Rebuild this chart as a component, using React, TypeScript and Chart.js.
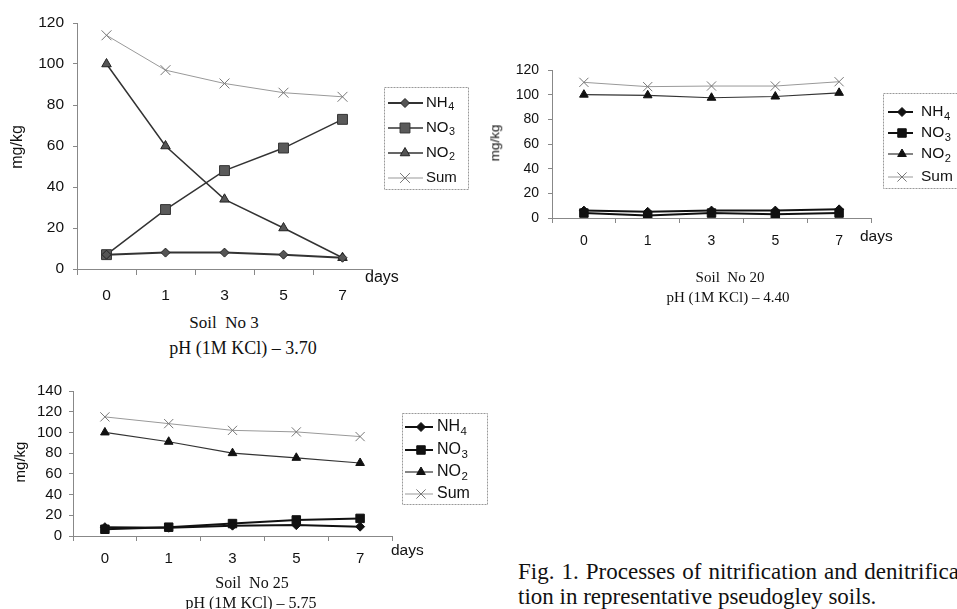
import React, { useEffect, useRef } from 'react';
import { Chart, registerables } from 'chart.js';
import { drawPoint } from 'chart.js/helpers';

Chart.register(...registerables);

// ---------- data ----------
const days = ['0', '1', '3', '5', '7'];
const seriesNames = ['NH4', 'NO3', 'NO2', 'Sum'];

const soil3NH4 = [7, 8, 8, 7, 5.5];
const soil3NO3 = [7, 29, 48, 59, 73];
const soil3NO2 = [100, 60, 34, 20, 5.5];
const soil3Sum = [114, 97, 90.5, 86, 84];

const soil20NH4 = [6, 5, 6, 6, 7];
const soil20NO3 = [4, 2, 4, 3, 4];
const soil20NO2 = [100, 99.5, 97.5, 98.5, 101.5];
const soil20Sum = [110, 106.5, 107, 107, 110.5];

const soil25NH4 = [8.5, 8, 10, 10.5, 9];
const soil25NO3 = [6.5, 8.5, 12, 15.5, 17];
const soil25NO2 = [100, 91, 80, 75.5, 70.5];
const soil25Sum = [115, 108.5, 102, 100.5, 96];

const SANS = '"Liberation Sans", Arial, sans-serif';
const SERIF = '"Liberation Serif", "Times New Roman", serif';

type Style = {
  color: string;
  width: number;
  point: string;
  radius: number;
  fill: string;
  border: string;
};

const grayStyles: Style[] = [
  { color: '#333', width: 2, point: 'rectRot', radius: 4.5, fill: '#555', border: '#222' },
  { color: '#333', width: 1.5, point: 'rect', radius: 7, fill: '#5a5a5a', border: '#333' },
  { color: '#333', width: 1.5, point: 'triangle', radius: 5.5, fill: '#555', border: '#222' },
  { color: '#999', width: 1, point: 'crossRot', radius: 7, fill: '#888', border: '#777' },
];
const blackStyles: Style[] = [
  { color: '#111', width: 2, point: 'rectRot', radius: 4.5, fill: '#111', border: '#111' },
  { color: '#111', width: 2, point: 'rect', radius: 6, fill: '#111', border: '#111' },
  { color: '#333', width: 1.2, point: 'triangle', radius: 5, fill: '#111', border: '#111' },
  { color: '#999', width: 1, point: 'crossRot', radius: 6.5, fill: '#888', border: '#777' },
];

function makeSets(values: number[][], styles: Style[]) {
  return values.map((v, i) => ({
    label: seriesNames[i],
    data: v,
    borderColor: styles[i].color,
    borderWidth: styles[i].width,
    pointStyle: styles[i].point,
    pointRadius: styles[i].radius,
    pointBackgroundColor: styles[i].fill,
    pointBorderColor: styles[i].border,
    pointBorderWidth: 1,
    tension: 0,
    fill: false,
  }));
}

type LegendCfg = {
  x: number; y: number; w: number; h: number;
  rows: number[]; lineX0: number; lineX1: number; markerX: number; textX: number; fontSize: number;
};

function makeLegend(cfg: LegendCfg) {
  return {
    id: 'boxLegend',
    afterDraw(chart: any) {
      const ctx = chart.ctx as CanvasRenderingContext2D;
      ctx.save();
      ctx.strokeStyle = '#999';
      ctx.lineWidth = 1;
      ctx.setLineDash([2, 1]);
      ctx.strokeRect(cfg.x + 0.5, cfg.y + 0.5, cfg.w, cfg.h);
      ctx.setLineDash([]);
      chart.data.datasets.forEach((ds: any, i: number) => {
        const y = cfg.rows[i];
        ctx.strokeStyle = ds.borderColor;
        ctx.lineWidth = ds.borderWidth;
        ctx.beginPath();
        ctx.moveTo(cfg.lineX0, y);
        ctx.lineTo(cfg.lineX1, y);
        ctx.stroke();
        ctx.fillStyle = ds.pointBackgroundColor;
        ctx.strokeStyle = ds.pointBorderColor;
        ctx.lineWidth = ds.pointBorderWidth;
        drawPoint(ctx, { pointStyle: ds.pointStyle, radius: ds.pointRadius, borderWidth: ds.pointBorderWidth, rotation: 0 } as any, cfg.markerX, y);
        const m = /^(.*?)(\d*)$/.exec(ds.label) as RegExpExecArray;
        ctx.fillStyle = '#111';
        ctx.textBaseline = 'middle';
        ctx.textAlign = 'left';
        ctx.font = `${cfg.fontSize}px ${SANS}`;
        ctx.fillText(m[1], cfg.textX, y);
        if (m[2]) {
          const w = ctx.measureText(m[1]).width;
          ctx.font = `${cfg.fontSize * 0.72}px ${SANS}`;
          ctx.fillText(m[2], cfg.textX + w + 0.5, y + cfg.fontSize * 0.3);
        }
      });
      ctx.restore();
    },
  };
}

type ChartProps = {
  left: number; top: number; width: number; height: number;
  area: { left: number; top: number; right: number; bottom: number };
  values: number[][]; styles: Style[]; yMax: number; font: number;
  xTickLen: number; xPad: number; yTickLen: number; yPad: number;
  legend: LegendCfg;
};

function SoilChart(p: ChartProps) {
  const ref = useRef<HTMLCanvasElement>(null);
  useEffect(() => {
    const axisColor = '#888';
    const chart = new Chart(ref.current as HTMLCanvasElement, {
      type: 'line',
      data: { labels: days, datasets: makeSets(p.values, p.styles) as any },
      options: {
        responsive: false,
        animation: false,
        devicePixelRatio: 1,
        layout: { padding: { top: p.area.top, right: p.width - p.area.right, left: 0, bottom: 0 } },
        plugins: { legend: { display: false }, tooltip: { enabled: false } },
        scales: {
          x: {
            type: 'category',
            offset: true,
            afterFit: (s: any) => { s.height = p.height - p.area.bottom; },
            grid: { display: true, offset: true, drawOnChartArea: false, drawTicks: true, tickLength: p.xTickLen, color: axisColor },
            border: { display: true, color: axisColor, width: 1 },
            ticks: { color: '#111', font: { family: SANS, size: p.font }, padding: p.xPad, maxRotation: 0, autoSkip: false },
          },
          y: {
            min: 0,
            max: p.yMax,
            afterFit: (s: any) => { s.width = p.area.left; },
            grid: { display: true, drawOnChartArea: false, drawTicks: true, tickLength: p.yTickLen, color: axisColor },
            border: { display: true, color: axisColor, width: 1 },
            ticks: { stepSize: 20, autoSkip: false, color: '#111', font: { family: SANS, size: p.font }, padding: p.yPad },
          },
        },
      },
      plugins: [makeLegend(p.legend) as any],
    });
    return () => chart.destroy();
  }, []);
  return (
    <canvas
      ref={ref}
      width={p.width}
      height={p.height}
      style={{ position: 'absolute', left: p.left, top: p.top, width: p.width, height: p.height }}
    />
  );
}

function Txt(props: { x: number; y: number; size: number; family: string; text: string; anchor?: 'center' | 'left'; rotate?: boolean; wordSpacing?: number }) {
  const tx = props.anchor === 'left' ? '0' : '-50%';
  return (
    <div
      style={{
        position: 'absolute',
        left: props.x,
        top: props.y,
        transform: `translate(${tx},-50%)` + (props.rotate ? ' rotate(-90deg)' : ''),
        whiteSpace: 'pre',
        fontFamily: props.family,
        fontSize: props.size,
        lineHeight: 1.15,
        wordSpacing: props.wordSpacing ?? 0,
        color: '#111',
      }}
    >
      {props.text}
    </div>
  );
}

export default function App() {
  return (
    <div style={{ position: 'absolute', left: 0, top: 0, width: 957, height: 609, overflow: 'hidden', background: '#fff' }}>
      <SoilChart
        left={0} top={0} width={480} height={312}
        area={{ left: 77, top: 23, right: 372, bottom: 269 }}
        values={[soil3NH4, soil3NO3, soil3NO2, soil3Sum]} styles={grayStyles}
        yMax={120} font={15.5} xTickLen={6} xPad={11} yTickLen={4} yPad={9}
        legend={{ x: 384, y: 87, w: 84, h: 102, rows: [103, 128, 153, 178], lineX0: 388, lineX1: 423, markerX: 405, textX: 426, fontSize: 15 }}
      />
      <SoilChart
        left={480} top={50} width={477} height={212}
        area={{ left: 72, top: 20, right: 391, bottom: 168 }}
        values={[soil20NH4, soil20NO3, soil20NO2, soil20Sum]} styles={blackStyles}
        yMax={120} font={14} xTickLen={5} xPad={10} yTickLen={4} yPad={9}
        legend={{ x: 403, y: 43, w: 100, h: 95, rows: [62, 83, 104, 127], lineX0: 408, lineX1: 433, markerX: 422, textX: 441, fontSize: 15.5 }}
      />
      <SoilChart
        left={0} top={375} width={500} height={200}
        area={{ left: 73, top: 15, right: 392, bottom: 161 }}
        values={[soil25NH4, soil25NO3, soil25NO2, soil25Sum]} styles={blackStyles}
        yMax={140} font={15} xTickLen={5} xPad={9} yTickLen={4} yPad={7}
        legend={{ x: 402, y: 38, w: 85, h: 91, rows: [52, 75, 97, 119], lineX0: 405, lineX1: 433, markerX: 421, textX: 437, fontSize: 16 }}
      />

      <Txt x={17} y={147} size={16} family={SANS} text="mg/kg" rotate />
      <Txt x={495} y={143} size={13.5} family={SANS} text="mg/kg" rotate />
      <Txt x={20} y={462} size={15} family={SANS} text="mg/kg" rotate />

      <Txt x={365} y={277} size={16} family={SANS} text="days" anchor="left" />
      <Txt x={860} y={236} size={15.5} family={SANS} text="days" anchor="left" />
      <Txt x={391} y={550} size={15.5} family={SANS} text="days" anchor="left" />

      <Txt x={224} y={323} size={17} family={SERIF} text="Soil  No 3" />
      <Txt x={243} y={348} size={18} family={SERIF} text="pH (1M KCl) – 3.70" />
      <Txt x={730} y={278} size={15} family={SERIF} text="Soil  No 20" />
      <Txt x={728} y={298} size={15} family={SERIF} text="pH (1M KCl) – 4.40" />
      <Txt x={252} y={583} size={16} family={SERIF} text="Soil  No 25" />
      <Txt x={251} y={603} size={16} family={SERIF} text="pH (1M KCl) – 5.75" />

      <Txt x={518} y={572} size={23} family={SERIF} text="Fig. 1. Processes of nitrification and denitrifica-" anchor="left" wordSpacing={1.3} />
      <Txt x={518} y={597} size={23} family={SERIF} text="tion in representative pseudogley soils." anchor="left" />
    </div>
  );
}
